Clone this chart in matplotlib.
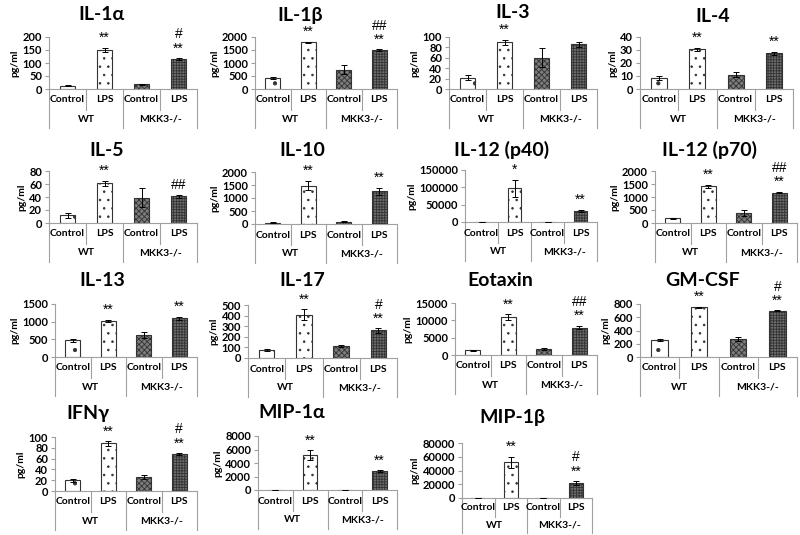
import matplotlib
matplotlib.use("Agg")
import matplotlib.pyplot as plt

plt.rcParams['font.family'] = ['Lato', 'DejaVu Sans']
plt.rcParams['hatch.linewidth'] = 0.6

W, H = 800, 535

conditions = ['Control', 'LPS', 'Control', 'LPS']
groups = ['WT', 'MKK3-/-']

titles = ['IL-1α', 'IL-1β', 'IL-3', 'IL-4',
          'IL-5', 'IL-10', 'IL-12 (p40)', 'IL-12 (p70)',
          'IL-13', 'IL-17', 'Eotaxin', 'GM-CSF',
          'IFNγ', 'MIP-1α', 'MIP-1β']

means = [
    [12, 150, 18, 115],
    [420, 1790, 740, 1500],
    [22, 90, 60, 86],
    [8.5, 30.5, 11, 27.5],
    [12, 61, 39, 41],
    [50, 1480, 90, 1260],
    [800, 97000, 500, 33000],
    [180, 1420, 380, 1170],
    [470, 1030, 620, 1100],
    [75, 410, 115, 260],
    [1300, 11000, 1700, 7900],
    [255, 750, 270, 700],
    [20, 88, 26, 68],
    [50, 5200, 50, 2800],
    [300, 52000, 300, 22000],
]

errors = [
    [2, 8, 2, 4],
    [30, 30, 180, 20],
    [4, 5, 18, 5],
    [1.5, 1, 2, 1],
    [4, 4, 15, 2],
    [10, 180, 20, 130],
    [200, 25000, 200, 3000],
    [30, 60, 110, 30],
    [40, 30, 90, 40],
    [10, 50, 10, 20],
    [200, 800, 400, 500],
    [20, 10, 35, 5],
    [3, 4, 3, 2],
    [10, 700, 10, 150],
    [50, 8000, 50, 2500],
]

y_max = [200, 2000, 100, 40, 80, 2000, 150000, 2000, 1500, 500, 15000, 800, 100, 8000, 80000]
y_step = [50, 500, 20, 10, 20, 500, 50000, 500, 500, 100, 5000, 200, 20, 2000, 20000]

# significance marks: (WT LPS, MKK3 LPS)
marks = [
    ('**', '#\n**'), ('**', '##\n**'), ('**', ''), ('**', '**'),
    ('**', '##'), ('**', '**'), ('*', '**'), ('**', '##\n**'),
    ('**', '**'), ('**', '#\n**'), ('**', '##\n**'), ('**', '#\n**'),
    ('**', '#\n**'), ('**', '**'), ('**', '#\n**'),
]

# axes boxes in pixels: left, top, right, bottom ; title centre x, y
boxes = [
    (49, 37, 197, 89), (255, 37, 397, 89), (449, 37, 597, 89), (640, 37, 793, 89),
    (49, 171, 197, 223), (255, 172, 397, 224), (465, 170, 597, 222), (655, 171, 797, 223),
    (55, 304, 197, 357), (248, 305, 397, 358), (455, 303, 597, 355), (640, 304, 797, 357),
    (55, 437, 197, 491), (258, 436, 397, 490), (462, 443, 592, 498),
]
# vertical scale of the category-axis block (last panel is squeezed at the bottom)
label_scale = [1.0] * 14 + [0.9]
title_pos = [
    (102, 15), (300, 15), (513, 13), (713, 17),
    (107, 150), (302, 150), (502, 150), (710, 150),
    (102, 280), (302, 280), (500, 280), (703, 280),
    (88, 413), (292, 413), (512, 418),
]

faces = ['white', 'white', '#7c7c7c', '#6e6e6e']
hatches = ['.', '..', 'xxxxxx', '++++++']
edge = '#333333'
grey = '#a0a0a0'

fig = plt.figure(figsize=(W / 100, H / 100), dpi=100)

for i in range(len(titles)):
    l, t, r, b = boxes[i]
    hpx = b - t
    k = label_scale[i]
    ax = fig.add_axes([l / W, 1 - b / H, (r - l) / W, hpx / H])
    x = list(range(4))
    for j in x:
        ax.bar(j, means[i][j], width=0.42, color=faces[j], edgecolor=edge,
               hatch=hatches[j], linewidth=0.8, zorder=2)
    ax.errorbar(x, means[i], yerr=errors[i], fmt='none', ecolor='black',
                elinewidth=0.7, capsize=2.5, capthick=0.7, zorder=3)
    ax.set_xlim(-0.5, 3.5)
    ax.set_ylim(0, y_max[i])
    ax.set_yticks(range(0, y_max[i] + 1, y_step[i]))
    ax.tick_params(axis='y', labelsize=8, length=3, color=grey, pad=2)
    for lab in ax.get_yticklabels():
        lab.set_fontweight('bold')
    ax.set_xticks([])
    for s in ['top', 'right']:
        ax.spines[s].set_visible(False)
    ax.spines['left'].set_color(grey)
    ax.spines['bottom'].set_color(grey)
    ax.set_ylabel('pg/ml', fontsize=7.5, fontweight='bold', labelpad=2)
    ax.patch.set_alpha(0)

    # two-level category axis
    inner = -21 * k / hpx
    outer = -39 * k / hpx
    for xs in [-0.5, 1.5, 3.5]:
        ax.plot([xs, xs], [0, outer], transform=ax.get_xaxis_transform(),
                color=grey, lw=0.8, clip_on=False)
    for xs in [0.5, 2.5]:
        ax.plot([xs, xs], [0, inner], transform=ax.get_xaxis_transform(),
                color=grey, lw=0.8, clip_on=False)
    for j in x:
        ax.text(j, -11 * k / hpx, conditions[j], transform=ax.get_xaxis_transform(),
                ha='center', va='center', fontsize=7.5, fontweight='bold')
    for g, xc in zip(groups, [0.5, 2.5]):
        ax.text(xc, -30 * k / hpx, g, transform=ax.get_xaxis_transform(),
                ha='center', va='center', fontsize=7.5, fontweight='bold')

    # significance marks
    for j, m in zip([1, 3], marks[i]):
        if m:
            ax.annotate(m, (j, means[i][j] + errors[i][j]), xytext=(0, 2),
                        textcoords='offset points', ha='center', va='bottom',
                        fontsize=10, linespacing=1.0,
                        family=['Liberation Sans', 'DejaVu Sans'])

    fig.text(title_pos[i][0] / W, 1 - title_pos[i][1] / H, titles[i],
             ha='center', va='center', fontsize=14, fontweight='bold')

fig.savefig('out.png', dpi=100)
